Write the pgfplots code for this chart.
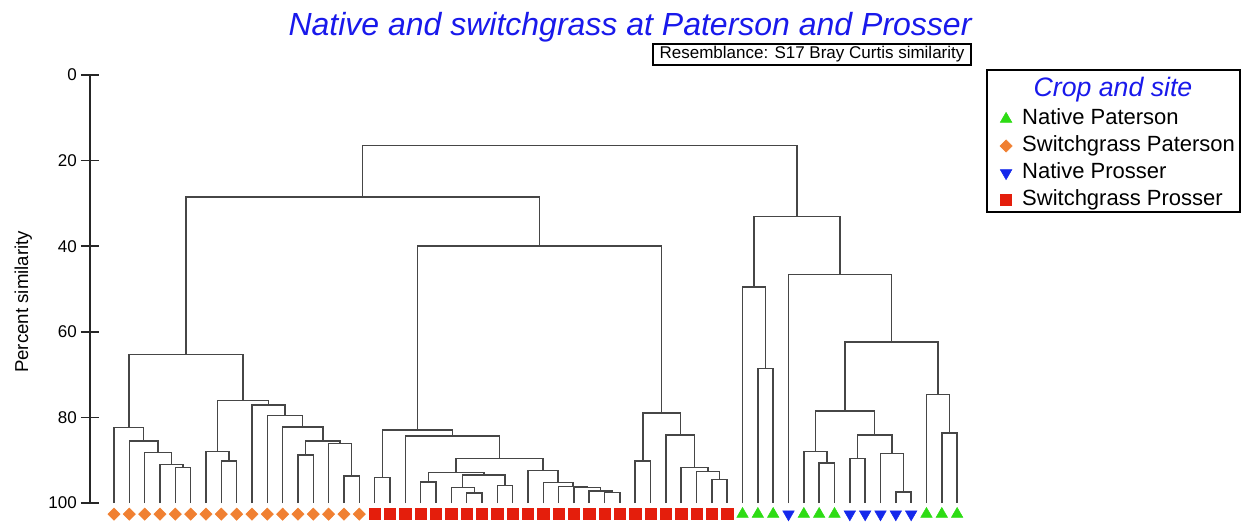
\documentclass[border=0pt]{standalone}
\usepackage{pgfplots}
\pgfplotsset{compat=1.18}
\usepackage{fontspec}
\setmainfont{Liberation Sans}
\definecolor{ngreen}{RGB}{45,220,20}
\definecolor{sorange}{RGB}{240,128,50}
\definecolor{nblue}{RGB}{20,40,235}
\definecolor{sred}{RGB}{228,30,12}
\definecolor{tblue}{RGB}{25,25,235}
\definecolor{lgray}{RGB}{70,70,70}
\begin{document}
\begin{tikzpicture}
\begin{axis}[
  scale only axis,
  width=661.5bp, height=321bp,
  xmin=-1.5656, xmax=55.97,
  ymin=0, ymax=100,
  y dir=reverse,
  hide x axis,
  axis y line*=left,
  y axis line style={line width=1.1bp, black!85},
  ytick={0,20,40,60,80,100},
  tick align=center,
  major tick length=13.5bp,
  ytick style={line width=1.1bp, black!85},
  /pgf/number format/assume math mode=true,
  yticklabel style={font=\fontsize{12.75bp}{15bp}\selectfont, inner sep=0pt, xshift=-3bp},
  ylabel={Percent similarity},
  ylabel style={font=\fontsize{14bp}{16bp}\selectfont, at={(axis description cs:-0.0756,0.47)}, anchor=center},
  clip=false,
  link/.style={color=lgray, line width=1.1bp, forget plot, no markers},
  legend style={at={(axis description cs:1.0317,0.9206)}, anchor=north west, draw=none, fill=none,
    inner sep=0pt, outer sep=0pt, column sep=7.5bp, row sep=5.25bp,
    font=\fontsize{16.5bp}{19bp}\selectfont,
    nodes={inner sep=0pt, text height=11.5bp, text depth=3.5bp}},
  legend cell align=left,
  legend image code/.code={\draw[#1] plot coordinates {(0bp,0bp)};},
]
% ---- leaf markers ----
\addplot[only marks, mark=triangle*, mark size=5bp, color=ngreen, mark options={fill=ngreen, draw=ngreen}]
  coordinates {(41,102.6) (42,102.6) (43,102.6) (45,102.6) (46,102.6) (47,102.6) (53,102.6) (54,102.6) (55,102.6)};
\addlegendentry{Native Paterson}
\addplot[only marks, mark=diamond*, mark size=4.6bp, color=sorange, mark options={fill=sorange, draw=sorange, xscale=1.33}]
  coordinates {(0,102.6) (1,102.6) (2,102.6) (3,102.6) (4,102.6) (5,102.6) (6,102.6) (7,102.6) (8,102.6)
   (9,102.6) (10,102.6) (11,102.6) (12,102.6) (13,102.6) (14,102.6) (15,102.6) (16,102.6)};
\addlegendentry{Switchgrass Paterson}
\addplot[only marks, mark=triangle*, mark size=5bp, color=nblue, mark options={fill=nblue, draw=nblue, rotate=180}]
  coordinates {(44,102.6) (48,102.6) (49,102.6) (50,102.6) (51,102.6) (52,102.6)};
\addlegendentry{Native Prosser}
\addplot[only marks, mark=square*, mark size=4.2bp, color=sred, mark options={fill=sred, draw=sred}]
  coordinates {(17,102.6) (18,102.6) (19,102.6) (20,102.6) (21,102.6) (22,102.6) (23,102.6) (24,102.6)
   (25,102.6) (26,102.6) (27,102.6) (28,102.6) (29,102.6) (30,102.6) (31,102.6) (32,102.6)
   (33,102.6) (34,102.6) (35,102.6) (36,102.6) (37,102.6) (38,102.6) (39,102.6) (40,102.6)};
\addlegendentry{Switchgrass Prosser}
% ---- dendrogram links: (left child x, left h) up to join height, across, down to right child ----
% Switchgrass Paterson cluster
\addplot[link] coordinates {(4,100) (4,91.7) (5,91.7) (5,100)};
\addplot[link] coordinates {(3,100) (3,91.0) (4.5,91.0) (4.5,91.7)};
\addplot[link] coordinates {(2,100) (2,88.2) (3.75,88.2) (3.75,91.0)};
\addplot[link] coordinates {(1,100) (1,85.5) (2.875,85.5) (2.875,88.2)};
\addplot[link] coordinates {(0,100) (0,82.4) (1.9375,82.4) (1.9375,85.5)};
\addplot[link] coordinates {(7,100) (7,90.2) (8,90.2) (8,100)};
\addplot[link] coordinates {(6,100) (6,88.0) (7.5,88.0) (7.5,90.2)};
\addplot[link] coordinates {(15,100) (15,93.7) (16,93.7) (16,100)};
\addplot[link] coordinates {(14,100) (14,86.1) (15.5,86.1) (15.5,93.7)};
\addplot[link] coordinates {(12,100) (12,88.8) (13,88.8) (13,100)};
\addplot[link] coordinates {(12.5,88.8) (12.5,85.5) (14.75,85.5) (14.75,86.1)};
\addplot[link] coordinates {(11,100) (11,82.2) (13.625,82.2) (13.625,85.5)};
\addplot[link] coordinates {(10,100) (10,79.5) (12.3125,79.5) (12.3125,82.2)};
\addplot[link] coordinates {(9,100) (9,77.1) (11.15625,77.1) (11.15625,79.5)};
\addplot[link] coordinates {(6.75,88.0) (6.75,76.0) (10.078,76.0) (10.078,77.1)};
\addplot[link] coordinates {(0.96875,82.4) (0.96875,65.3) (8.414,65.3) (8.414,76.0)};
% Switchgrass Prosser cluster
\addplot[link] coordinates {(17,100) (17,94.1) (18,94.1) (18,100)};
\addplot[link] coordinates {(20,100) (20,95.1) (21,95.1) (21,100)};
\addplot[link] coordinates {(23,100) (23,97.7) (24,97.7) (24,100)};
\addplot[link] coordinates {(22,100) (22,96.4) (23.5,96.4) (23.5,97.7)};
\addplot[link] coordinates {(25,100) (25,95.9) (26,95.9) (26,100)};
\addplot[link] coordinates {(22.75,96.4) (22.75,93.5) (25.5,93.5) (25.5,95.9)};
\addplot[link] coordinates {(20.5,95.1) (20.5,92.9) (24.125,92.9) (24.125,93.5)};
\addplot[link] coordinates {(32,100) (32,97.6) (33,97.6) (33,100)};
\addplot[link] coordinates {(31,100) (31,97.2) (32.5,97.2) (32.5,97.6)};
\addplot[link] coordinates {(30,100) (30,96.4) (31.75,96.4) (31.75,97.2)};
\addplot[link] coordinates {(29,100) (29,96.1) (30.875,96.1) (30.875,96.4)};
\addplot[link] coordinates {(28,100) (28,95.2) (29.9375,95.2) (29.9375,96.1)};
\addplot[link] coordinates {(27,100) (27,92.4) (28.969,92.4) (28.969,95.2)};
\addplot[link] coordinates {(22.3125,92.9) (22.3125,89.6) (27.984,89.6) (27.984,92.4)};
\addplot[link] coordinates {(19,100) (19,84.3) (25.148,84.3) (25.148,89.6)};
\addplot[link] coordinates {(17.5,94.1) (17.5,82.9) (22.074,82.9) (22.074,84.3)};
\addplot[link] coordinates {(34,100) (34,90.2) (35,90.2) (35,100)};
\addplot[link] coordinates {(39,100) (39,94.5) (40,94.5) (40,100)};
\addplot[link] coordinates {(38,100) (38,92.7) (39.5,92.7) (39.5,94.5)};
\addplot[link] coordinates {(37,100) (37,91.7) (38.75,91.7) (38.75,92.7)};
\addplot[link] coordinates {(36,100) (36,84.1) (37.875,84.1) (37.875,91.7)};
\addplot[link] coordinates {(34.5,90.2) (34.5,79.0) (36.9375,79.0) (36.9375,84.1)};
\addplot[link] coordinates {(19.787,82.9) (19.787,40.0) (35.719,40.0) (35.719,79.0)};
\addplot[link] coordinates {(4.691,65.3) (4.691,28.5) (27.753,28.5) (27.753,40.0)};
% Native cluster
\addplot[link] coordinates {(42,100) (42,68.6) (43,68.6) (43,100)};
\addplot[link] coordinates {(41,100) (41,49.5) (42.5,49.5) (42.5,68.6)};
\addplot[link] coordinates {(46,100) (46,90.7) (47,90.7) (47,100)};
\addplot[link] coordinates {(45,100) (45,88.0) (46.5,88.0) (46.5,90.7)};
\addplot[link] coordinates {(48,100) (48,89.6) (49,89.6) (49,100)};
\addplot[link] coordinates {(51,100) (51,97.4) (52,97.4) (52,100)};
\addplot[link] coordinates {(50,100) (50,88.4) (51.5,88.4) (51.5,97.4)};
\addplot[link] coordinates {(48.5,89.6) (48.5,84.1) (50.75,84.1) (50.75,88.4)};
\addplot[link] coordinates {(45.75,88.0) (45.75,78.5) (49.625,78.5) (49.625,84.1)};
\addplot[link] coordinates {(54,100) (54,83.6) (55,83.6) (55,100)};
\addplot[link] coordinates {(53,100) (53,74.7) (54.5,74.7) (54.5,83.6)};
\addplot[link] coordinates {(47.6875,78.5) (47.6875,62.4) (53.75,62.4) (53.75,74.7)};
\addplot[link] coordinates {(44,100) (44,46.6) (50.719,46.6) (50.719,62.4)};
\addplot[link] coordinates {(41.75,49.5) (41.75,33.1) (47.359,33.1) (47.359,46.6)};
\addplot[link] coordinates {(16.222,28.5) (16.222,16.5) (44.555,16.5) (44.555,33.1)};
\end{axis}
% title, resemblance box, legend frame (origin = axis lower-left corner)
\node[anchor=base, text=tblue, font=\fontsize{24bp}{28bp}\selectfont\itshape] at (405bp,350.25bp)
  {Native and switchgrass at Paterson and Prosser};
\draw[line width=0.8bp, black] (422.25bp,344.25bp) rectangle (660.75bp,328.5bp);
\node[font=\fontsize{12.75bp}{15bp}\selectfont, inner sep=0pt] at (541.5bp,336.4bp)
  {Resemblance: S17 Bray Curtis similarity};
\draw[line width=0.8bp, black] (672.75bp,324.75bp) rectangle (862.5bp,218.25bp);
\node[anchor=base, text=tblue, font=\fontsize{20bp}{24bp}\selectfont\itshape] at (767.25bp,304.5bp)
  {Crop and site};
\pgfresetboundingbox
\path[use as bounding box] (-67.5bp,377.25bp) rectangle (866.25bp,-15bp);
\end{tikzpicture}
\end{document}
